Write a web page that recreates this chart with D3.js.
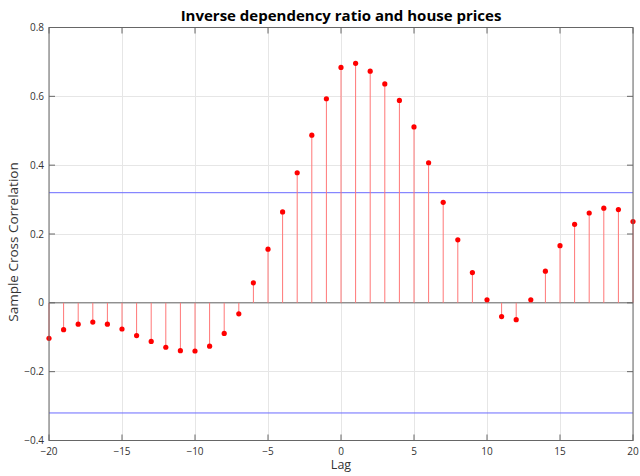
<!DOCTYPE html>
<html><head><meta charset="utf-8">
<script src="https://cdn.jsdelivr.net/npm/d3@7"></script>
<style>body{margin:0;background:#fff;} text{font-family:"Open Sans","DejaVu Sans",sans-serif;}</style>
</head><body><svg id="c" width="640" height="476"></svg>
<script>
const lags = d3.range(-20, 21);
const xcf = [-0.103,-0.078,-0.062,-0.056,-0.062,-0.076,-0.095,-0.112,-0.129,-0.139,-0.140,-0.126,-0.089,-0.032,0.058,
  0.156,0.264,0.378,0.487,0.593,0.684,0.696,0.673,0.636,0.588,0.511,0.407,0.292,0.183,0.088,0.009,
  -0.040,-0.049,0.009,0.092,0.166,0.228,0.261,0.275,0.271,0.236];
const bound = 0.32;
const xTicks = [-20,-15,-10,-5,0,5,10,15,20];
const yTicks = [-0.4,-0.2,0,0.2,0.4,0.6,0.8];
const title = "Inverse dependency ratio and house prices";
const xLabel = "Lag", yLabel = "Sample Cross Correlation";

const svg = d3.select("#c");
const L=49, R=633, T=27.5, B=440.5;
const x = d3.scaleLinear().domain([-20,20]).range([L,R]);
const y = d3.scaleLinear().domain([-0.4,0.8]).range([B,T]);
const fmt = v => (v===0?"0":d3.format("")(v)).replace("-","\u2212");

// grid
svg.append("g").selectAll("line").data(xTicks).join("line")
  .attr("x1",d=>x(d)).attr("x2",d=>x(d)).attr("y1",T).attr("y2",B)
  .attr("stroke","#e6e6e6").attr("stroke-width",1).attr("shape-rendering","crispEdges");
svg.append("g").selectAll("line").data(yTicks).join("line")
  .attr("x1",L).attr("x2",R).attr("y1",d=>y(d)).attr("y2",d=>y(d))
  .attr("stroke","#e6e6e6").attr("stroke-width",1).attr("shape-rendering","crispEdges");

// bounds
[bound,-bound].forEach(b=>{
  svg.append("line").attr("x1",L).attr("x2",R).attr("y1",y(b)).attr("y2",y(b))
    .attr("stroke","#6b6bff").attr("stroke-width",1);
});

// baseline
svg.append("line").attr("x1",L).attr("x2",R).attr("y1",y(0)).attr("y2",y(0))
  .attr("stroke","#666").attr("stroke-width",1);

// stems
svg.append("g").selectAll("line").data(lags).join("line")
  .attr("x1",d=>x(d)).attr("x2",d=>x(d)).attr("y1",y(0)).attr("y2",(d,i)=>y(xcf[i]))
  .attr("stroke","#ff7777").attr("stroke-width",1);
svg.append("g").selectAll("circle").data(lags).join("circle")
  .attr("cx",d=>x(d)).attr("cy",(d,i)=>y(xcf[i])).attr("r",2.6).attr("fill","#ff0000");

// axes box and ticks
const ax = svg.append("g").attr("stroke","#666").attr("fill","none");
ax.append("rect").attr("x",L).attr("y",T).attr("width",R-L).attr("height",B-T).attr("stroke-width",1);
xTicks.forEach(t=>{
  ax.append("line").attr("x1",x(t)).attr("x2",x(t)).attr("y1",B).attr("y2",B-6);
  ax.append("line").attr("x1",x(t)).attr("x2",x(t)).attr("y1",T).attr("y2",T+6);
});
yTicks.forEach(t=>{
  ax.append("line").attr("x1",L).attr("x2",L+6).attr("y1",y(t)).attr("y2",y(t));
  ax.append("line").attr("x1",R).attr("x2",R-6).attr("y1",y(t)).attr("y2",y(t));
});

svg.append("g").selectAll("text").data(xTicks).join("text")
  .attr("x",d=>x(d)).attr("y",B+14).attr("text-anchor","middle")
  .attr("font-size",10).attr("fill","#333").text(fmt);
svg.append("g").selectAll("text").data(yTicks).join("text")
  .attr("x",L-5).attr("y",d=>y(d)+3.5).attr("text-anchor","end")
  .attr("font-size",10).attr("fill","#333").text(fmt);

svg.append("text").attr("x",(L+R)/2).attr("y",21).attr("text-anchor","middle")
  .attr("font-size",15).attr("font-weight","bold").attr("fill","#000").text(title);
svg.append("text").attr("x",(L+R)/2).attr("y",469).attr("text-anchor","middle")
  .attr("font-size",12.5).attr("fill","#333").text(xLabel);
svg.append("text").attr("transform",`translate(18,${(T+B)/2+8}) rotate(-90)`).attr("text-anchor","middle")
  .attr("font-size",13.5).attr("fill","#333").text(yLabel);
</script></body></html>
